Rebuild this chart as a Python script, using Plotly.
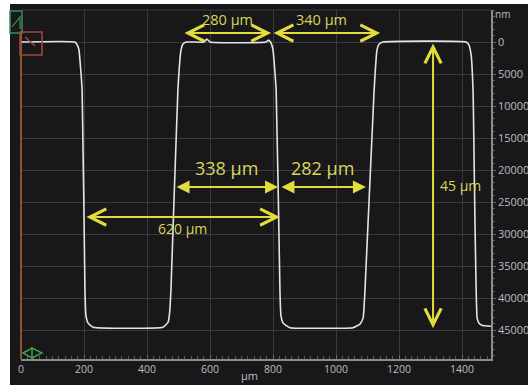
import plotly.graph_objects as go

# ---- data ----
profile_x = [0, 171, 179, 184, 194, 203, 206, 213, 229, 340, 451, 467, 471, 476, 498, 508, 514, 524,
             581, 590, 600, 778, 786, 794, 800, 810, 822, 825, 832, 854, 949, 1054, 1076, 1086, 1092,
             1121, 1130, 1137, 1149, 1413, 1422, 1429, 1435, 1448, 1454, 1463, 1492]
profile_y = [0, 0, 470, 1250, 7500, 38750, 42660, 43900, 44530, 44690, 44530, 43750, 42660, 38750,
             7500, 1250, 310, 0, 0, -470, 0, 0, -310, 160, 1250, 7500, 38750, 42660, 43900, 44610,
             44690, 44610, 44060, 43120, 38750, 7500, 1250, 310, 0, 0, 470, 2030, 7500, 43120, 43900,
             44220, 44380]

dim_labels = ["280 µm", "340 µm", "338 µm", "282 µm", "620 µm"]
dim_start = [514, 797, 489, 822, 203]
dim_end = [794, 1140, 816, 1095, 822]
dim_level = [-1400, -1400, 22650, 22650, 27340]

depth_label = "45 µm"
depth_x = 1308
depth_top = 0
depth_bottom = 44690

x_ticks = [0, 200, 400, 600, 800, 1000, 1200, 1400]
y_ticks = [0, 5000, 10000, 15000, 20000, 25000, 30000, 35000, 40000, 45000]

# ---- styling ----
BG = "#18181b"
GRID = "#3a3a3e"
AX = "#8c8c8c"
TXT = "#bdbdbd"
YEL = "#e2dc3c"
YEL_T = "#d9d55a"
FONT = "Open Sans"

W, H = 528, 385
ML, MR, MT, MB = 21, 37, 10, 26
PW, PH = W - ML - MR, H - MT - MB


def px(xp):
    return (xp - ML) / PW


def py(yp):
    return (H - MB - yp) / PH


fig = go.Figure()
fig.add_trace(go.Scatter(x=profile_x, y=profile_y, mode="lines",
                         line=dict(color="#e4e4e4", width=1.6, shape="spline", smoothing=0.4),
                         hoverinfo="skip", showlegend=False))

annotations = []
heads = [5, 5, 2, 2, 5]
sizes = [1.6, 1.6, 1.3, 1.3, 1.6]
for lab, s, e, lv, hd, sz in zip(dim_labels, dim_start, dim_end, dim_level, heads, sizes):
    annotations.append(dict(x=e, y=lv, ax=s, ay=lv, xref="x", yref="y", axref="x", ayref="y",
                            text="", showarrow=True, arrowside="end+start", arrowhead=hd,
                            startarrowhead=hd, arrowsize=sz, startarrowsize=sz,
                            arrowwidth=2, arrowcolor=YEL))

annotations.append(dict(x=(dim_start[0] + dim_end[0]) / 2, y=dim_level[0], yshift=14, xref="x", yref="y",
                        text=dim_labels[0], showarrow=False, font=dict(family=FONT, size=14.5, color=YEL_T)))
annotations.append(dict(x=(dim_start[1] + dim_end[1]) / 2 - 15, y=dim_level[1], yshift=14, xref="x", yref="y",
                        text=dim_labels[1], showarrow=False, font=dict(family=FONT, size=14.5, color=YEL_T)))
annotations.append(dict(x=(dim_start[2] + dim_end[2]) / 2, y=dim_level[2], yshift=19, xref="x", yref="y",
                        text=dim_labels[2], showarrow=False, font=dict(family=FONT, size=18, color=YEL_T)))
annotations.append(dict(x=(dim_start[3] + dim_end[3]) / 2, y=dim_level[3], yshift=19, xref="x", yref="y",
                        text=dim_labels[3], showarrow=False, font=dict(family=FONT, size=18, color=YEL_T)))
annotations.append(dict(x=(dim_start[4] + dim_end[4]) / 2, y=dim_level[4], yshift=-11, xref="x", yref="y",
                        text=dim_labels[4], showarrow=False, font=dict(family=FONT, size=14, color=YEL_T)))

annotations.append(dict(x=depth_x, y=depth_bottom, ax=depth_x, ay=depth_top, xref="x", yref="y",
                        axref="x", ayref="y", text="", showarrow=True, arrowside="end+start",
                        arrowhead=5, startarrowhead=5, arrowsize=1.6, startarrowsize=1.6,
                        arrowwidth=2, arrowcolor=YEL))
annotations.append(dict(x=depth_x, y=(depth_top + depth_bottom) / 2, xshift=27, yshift=0,
                        xref="x", yref="y", text=depth_label, showarrow=False,
                        font=dict(family=FONT, size=14, color=YEL_T)))

annotations.append(dict(x=px(249), y=py(376), xref="paper", yref="paper", yanchor="middle",
                        text="µm", showarrow=False, borderpad=0,
                        font=dict(family=FONT, size=11, color=TXT)))
annotations.append(dict(x=px(511), y=py(14), xref="paper", yref="paper", yanchor="middle",
                        text="nm", showarrow=False, borderpad=0,
                        font=dict(family=FONT, size=10, color=TXT)))

shapes = [
    dict(type="rect", xref="paper", yref="paper", x0=px(10), x1=px(540), y0=py(4), y1=py(400),
         fillcolor=BG, line=dict(width=0), layer="below"),
    dict(type="line", xref="paper", yref="paper", x0=0, x1=1, y0=1, y1=1,
         line=dict(color=GRID, width=1), layer="below"),
    dict(type="line", xref="paper", yref="paper", x0=px(21), x1=px(21), y0=py(33), y1=py(359),
         line=dict(color="#b5653c", width=1.5)),
    dict(type="rect", xref="paper", yref="paper", x0=px(10), x1=px(22), y0=py(33), y1=py(11),
         line=dict(color="#3f8f4f", width=1.5)),
    dict(type="path", xref="paper", yref="paper",
         path=f"M{px(12)},{py(27)} L{px(20)},{py(17)} L{px(20)},{py(29)}",
         line=dict(color="#3f8f4f", width=1.2)),
    dict(type="rect", xref="paper", yref="paper", x0=px(20), x1=px(42), y0=py(55), y1=py(32),
         line=dict(color="#9e4a38", width=1.5)),
    dict(type="path", xref="paper", yref="paper",
         path=f"M{px(25)},{py(37)} L{px(35)},{py(46)}",
         line=dict(color="#9e4a38", width=1.5)),
    dict(type="path", xref="paper", yref="paper",
         path=f"M{px(23)},{py(353)} L{px(32)},{py(348)} L{px(42)},{py(353)} L{px(32)},{py(358)} Z",
         line=dict(color="#3f9f50", width=1.5)),
    dict(type="line", xref="paper", yref="paper", x0=px(32), x1=px(32), y0=py(347), y1=py(359),
         line=dict(color="#3f9f50", width=1.5)),
]

fig.update_layout(
    width=W, height=H, autosize=False,
    margin=dict(l=ML, r=MR, t=MT, b=MB, pad=0),
    paper_bgcolor="white", plot_bgcolor=BG,
    showlegend=False,
    annotations=annotations, shapes=shapes,
    font=dict(family=FONT, color=TXT),
    xaxis=dict(range=[0, 1492], tickmode="array", tickvals=x_ticks, ticktext=[str(v) for v in x_ticks],
               showgrid=True, gridcolor=GRID, gridwidth=1, zeroline=False, automargin=False,
               showline=True, linecolor=AX, linewidth=1.5,
               ticks="inside", ticklen=4, tickcolor="#6a6a6a",
               minor=dict(dtick=20, tick0=0, ticks="inside", ticklen=3, tickcolor="#5a5a5a", showgrid=False),
               tickfont=dict(family=FONT, size=10.5, color=TXT)),
    yaxis=dict(range=[49500, -5000], side="right", tickmode="array", tickvals=y_ticks,
               ticktext=[str(v) for v in y_ticks], automargin=False,
               showgrid=True, gridcolor=GRID, gridwidth=1, zeroline=False,
               showline=True, linecolor=AX, linewidth=1.5,
               ticks="outside", ticklen=3, tickcolor="#6a6a6a",
               minor=dict(dtick=1000, tick0=0, ticks="outside", ticklen=2, tickcolor="#5a5a5a", showgrid=False),
               tickfont=dict(family=FONT, size=11, color=TXT)),
)

fig.write_html("out.html", config={"displayModeBar": False},
               post_script="document.body.style.margin='0';document.body.style.overflow='hidden';")
